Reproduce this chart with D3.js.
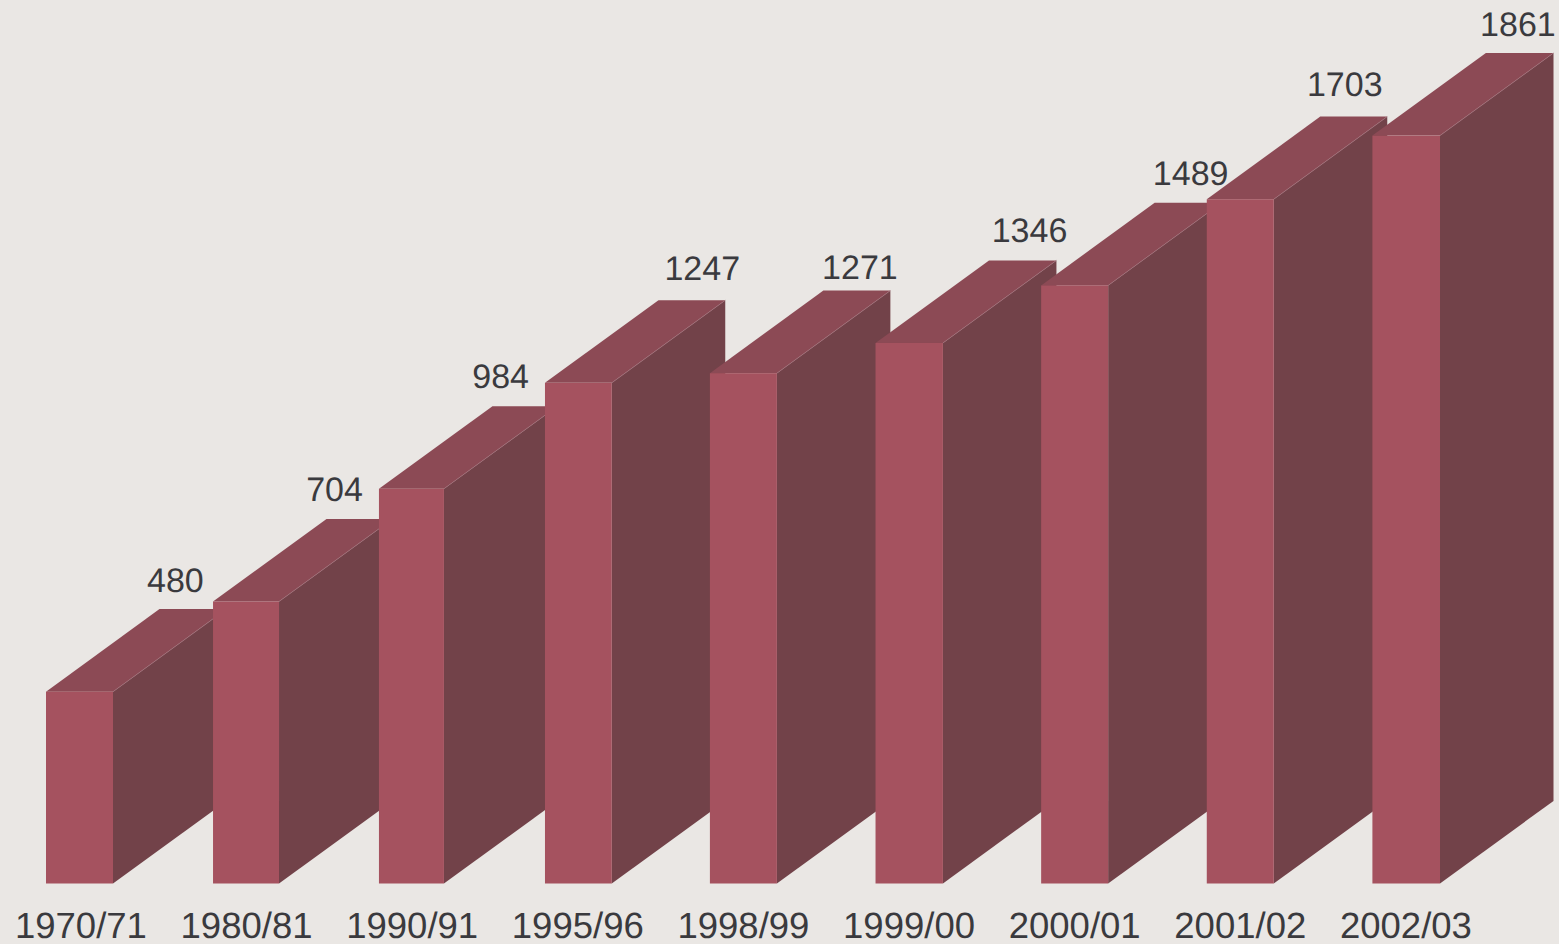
<!DOCTYPE html>
<html><head><meta charset="utf-8">
<script src="https://cdn.jsdelivr.net/npm/d3@7"></script>
<style>html,body{margin:0;padding:0;background:#eae7e4;overflow:hidden}svg{display:block}text{font-family:"Liberation Sans",Arial,sans-serif;fill:#3a3a3e;text-rendering:geometricPrecision}</style>
</head><body><svg id="c" width="1559" height="944"></svg>
<script>
const categories=["1970/71","1980/81","1990/91","1995/96","1998/99","1999/00","2000/01","2001/02","2002/03"];
const values=[480,704,984,1247,1271,1346,1489,1703,1861];
// hand-placed offsets of the original chart (px)
const labelDx=[94.5,88,88.5,124.5,116.5,120.5,116,104.5,112];
const labelDy=[-17,-18,-18,-20,-12,-18,-18,-20.5,-17.5];
const leftNudge=[-1.4,0,0.3,0.7,0,0,0,0,0];
const rightNudge=[-1.4,-1,-1.7,0.5,0,0.4,0,0,0.6];
const depthX=113.5, depthY=82.6, baseY=883.5;
const svg=d3.select("#c");
const x=d3.scaleBand().domain(categories).range([47.4,1439.4]).paddingInner(0.5955).paddingOuter(0);
const y=d3.scaleLinear().domain([0,1861]).range([885,135.6]);
const pts=a=>a.map(p=>p.join(",")).join(" ");
const g=svg.selectAll("g.bar").data(values).join("g").attr("class","bar");
const X=(d,i)=>x(categories[i])+leftNudge[i];
const R=(d,i)=>x(categories[i])+x.bandwidth()+rightNudge[i];
g.append("polygon").attr("fill","#724249").attr("points",(d,i)=>{const r=R(d,i),t=y(d);
  return pts([[r,t],[r+depthX,t-depthY],[r+depthX,baseY-depthY],[r,baseY]]);});
g.append("polygon").attr("fill","#8c4a55").attr("points",(d,i)=>{const l=X(d,i),r=R(d,i),t=y(d);
  return pts([[l,t],[l+depthX,t-depthY],[r+depthX,t-depthY],[r,t]]);});
g.append("line").attr("stroke","#a0707a").attr("stroke-width",0.7)
  .attr("x1",R).attr("y1",d=>y(d))
  .attr("x2",(d,i)=>R(d,i)+depthX).attr("y2",d=>y(d)-depthY);
g.append("rect").attr("fill","#a5525f").attr("x",X).attr("y",d=>y(d))
  .attr("width",(d,i)=>R(d,i)-X(d,i)).attr("height",d=>baseY-y(d));
svg.selectAll("text.val").data(values).join("text").attr("class","val")
  .attr("text-anchor","middle").attr("font-size",34)
  .attr("x",(d,i)=>x(categories[i])+x.bandwidth()/2+labelDx[i])
  .attr("y",(d,i)=>y(d)-depthY+labelDy[i]).text(d=>d);
const ax=svg.append("g").attr("transform",`translate(0,${baseY})`).call(d3.axisBottom(x).tickSize(0).tickPadding(0));
ax.select(".domain").remove();
ax.selectAll("text").attr("font-size",36.5).attr("font-family",null).attr("y",54.5).attr("dy",0);
</script></body></html>
